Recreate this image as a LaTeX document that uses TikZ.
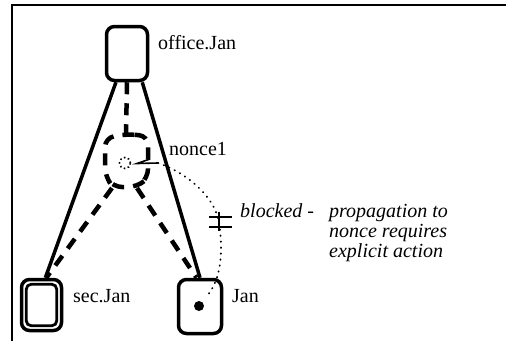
\documentclass[tikz,border=0pt]{standalone}
\usepackage{fontspec}
\setmainfont{Liberation Serif}
\begin{document}
\begin{tikzpicture}[x=1pt,y=-1pt,
  key/.style={draw, line width=3.5pt, rounded corners=8pt, inner sep=0pt},
  solidleg/.style={line width=3.5pt},
  dashleg/.style={line width=4.5pt, dash pattern=on 12pt off 9pt},
  dotline/.style={line width=1.8pt, dash pattern=on 0.5pt off 5.5pt, line cap=round},
  lbl/.style={anchor=base west, inner sep=0pt, font=\fontsize{20}{20}\selectfont}]
\useasboundingbox (0,0) rectangle (506,341);

% frame
\draw[line width=1.5pt] (12,341) -- (12,5) -- (506,5);

% keys
\node[key, minimum width=41pt, minimum height=54pt] (office) at (127,53.5) {};
\node[key, minimum width=40pt, minimum height=51pt] (sec) at (41.5,305) {};
\draw[line width=2.8pt, rounded corners=5pt]
  ([xshift=6.5pt,yshift=-6.5pt]sec.north west) rectangle ([xshift=-6.5pt,yshift=6.5pt]sec.south east);
\node[key, minimum width=43pt, minimum height=54pt] (jan) at (200,306.5) {};
\fill (199,306) circle (5pt);

% labels
\node[lbl] at (158,49) {office.Jan};
\node[lbl] at (73,302) {sec.Jan};
\node[lbl] at (232,302) {Jan};
\node[lbl] at (169,155) {nonce1};
\node[lbl, font=\fontsize{20}{20}\selectfont\itshape] at (240,217) {blocked -};
\node[lbl, font=\fontsize{20}{20}\selectfont\itshape, align=left] at (329,257)
  {propagation to\\nonce requires\\explicit action};

% solid derivation lines
\draw[solidleg] (office.249) -- (sec.82);
\draw[solidleg] (office.298) -- (jan.90);

% dashed derivation through the nonce
\coordinate (looptop) at (126,134);
\coordinate (loopbl) at (112,188);
\coordinate (loopbr) at (137,188);
\draw[dashleg] (office.south) -- (looptop);
\draw[dashleg, rounded corners=9pt] (looptop) -- (148,136) -- (148,178) -- (137,187)
  -- (113,187) -- (105,176) -- (105,138) -- cycle;
\draw[dashleg] (loopbl) -- (sec.80);
\draw[dashleg] (loopbr) -- (jan.97);

% nonce
\node[draw, circle, line width=1.6pt, dash pattern=on 1.5pt off 2.5pt,
  minimum size=11pt, inner sep=0pt] (nonce) at (125,163) {};
\coordinate (ntail) at (158,163);
\coordinate (ntip) at (137,163.5);
\draw[line width=1.6pt] (ntail) -- (ntip) -- ++(13,-4.5);

% blocked propagation path
\coordinate (bend) at (207,296);
\draw[dotline] (ntail) .. controls (185,172) and (214,195) .. (219,222)
  .. controls (223,250) and (222,278) .. (bend);
\draw[line width=1.4pt] (209,217) -- (232,217) (209,227) -- (232,227) (219,212) -- (219,231);
\end{tikzpicture}
\end{document}
